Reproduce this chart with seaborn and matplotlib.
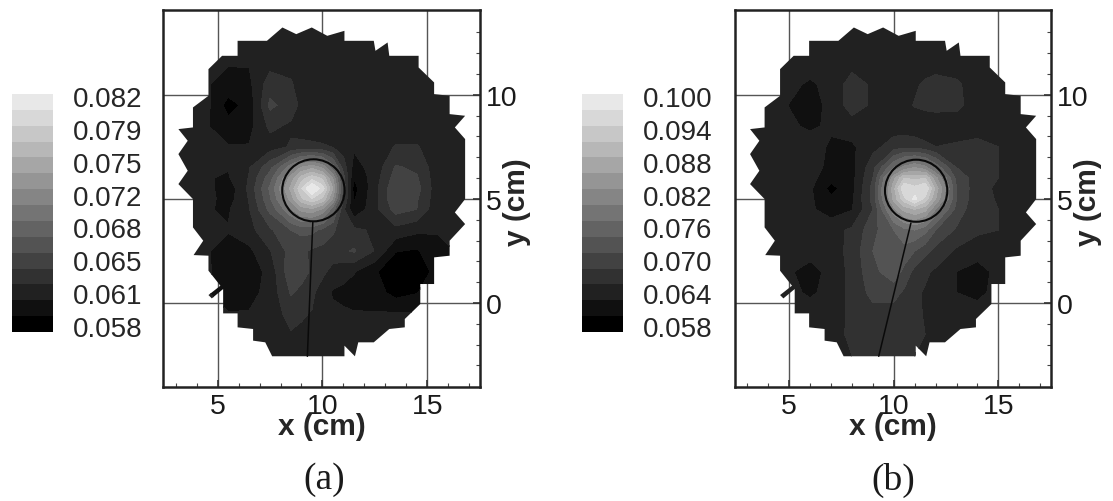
import numpy as np
import matplotlib
matplotlib.use("Agg")
import matplotlib.pyplot as plt
from matplotlib.colors import ListedColormap
from matplotlib.patches import Polygon, Circle
import seaborn as sns

# colour bar labels, every second band
labels_a = ["0.058", "0.061", "0.065", "0.068", "0.072", "0.075", "0.079", "0.082"]
labels_b = ["0.058", "0.064", "0.070", "0.076", "0.082", "0.088", "0.094", "0.100"]

# band edges (in units of 1e-3)
start_level = 58.0
step_a = 1.7
step_b = 3.0
n_bands = 15

# measured region outline, cm
outline_x = [8.09, 8.75, 9.49, 10.23, 11.05, 11.05, 12.45, 12.53, 13.11, 13.19, 14.59, 14.59,
             15.33, 15.33, 16.07, 16.07, 16.81, 16.32, 16.81, 16.81, 16.32, 16.81, 16.07, 16.07,
             15.33, 15.33, 14.67, 14.67, 13.93, 13.93, 13.19, 12.45, 11.71, 11.55, 11.05, 11.05,
             7.6, 7.27, 6.69, 6.69, 5.95, 5.95, 5.26, 5.26, 4.72, 4.56, 5.13, 4.56, 4.56, 3.85,
             4.31, 3.82, 3.82, 3.125, 3.57, 3.125, 3.57, 3.125, 3.82, 3.82, 4.56, 4.56, 5.21,
             5.95, 5.95, 7.35]
outline_y = [13.23, 12.91, 13.23, 12.83, 13.07, 12.59, 12.59, 12.11, 12.51, 11.87, 11.87, 11.31,
             10.59, 10.03, 9.95, 9.07, 8.99, 8.43, 7.87, 4.99, 4.35, 3.79, 2.99, 2.27,
             2.19, 0.91, 0.91, -0.05, -0.77, -1.17, -1.25, -1.89, -1.89, -2.56, -2.05, -2.56,
             -2.56, -1.89, -1.81, -1.25, -1.17, -0.5, -0.5, 0.67, 0.22, 0.38, 0.83, 1.55, 2.27, 2.3,
             2.99, 3.63, 4.99, 5.71, 6.35, 7.15, 7.79, 8.35, 8.43, 9.39, 9.95, 11.23, 11.87,
             11.87, 12.59, 12.59]

# panel (a) probe and stem
circle_a = (9.57, 5.41)
stem_x_a = [9.54, 9.28]
stem_y_a = [3.87, -2.56]
# panel (b) probe and stem
circle_b = (11.07, 5.39)
stem_x_b = [10.82, 9.28]
stem_y_b = [3.84, -2.56]
radius = 1.49

# field grids, values (1e-3)
y_nodes = [13.5, 12.5, 11.5, 10.5, 9.5, 8.5, 7.5, 6.5, 6, 5.5, 5, 4.5, 3.5, 2.5, 1.5, 0.5, -0.5, -1.5, -2.5, -3.5]
x_nodes_a = [2.5, 3.5, 4.5, 5.5, 6.5, 7.5, 8.5, 9, 9.5, 10, 10.5, 11, 11.5, 12.5, 13.5, 14.5, 15.5, 16.5, 17.5]
x_nodes_b = [3, 4, 5, 6, 7, 8, 9, 10, 10.5, 11, 11.5, 12, 13, 14, 15, 16, 17]

field_a = [
    [61.5, 61.5, 61.5, 61.5, 61.5, 61.5, 61.5, 61.5, 61.5, 61.5, 61.5, 61.5, 61.5, 61.5, 61.5, 61.5, 61.5, 61.5, 61.5],
    [61.5, 61.5, 61.5, 61.5, 61.5, 61.5, 61.5, 61.5, 61.5, 61.5, 61.5, 61.5, 61.5, 61.5, 61.5, 61.5, 61.5, 61.5, 61.5],
    [61.5, 61.5, 61.5, 61.5, 61.5, 62.5, 62.5, 62.0, 61.5, 61.5, 61.5, 61.5, 61.5, 61.5, 61.5, 61.5, 61.5, 61.5, 61.5],
    [61.5, 61.5, 61.5, 60.8, 61.0, 64.0, 63.3, 62.2, 61.6, 61.5, 61.5, 61.5, 61.5, 61.5, 61.5, 61.5, 61.5, 61.5, 61.5],
    [61.5, 61.5, 61.8, 59.0, 60.3, 65.2, 64.0, 62.6, 61.6, 61.5, 61.5, 61.5, 61.5, 61.5, 61.5, 61.5, 61.5, 61.5, 61.5],
    [61.5, 61.5, 61.5, 60.3, 60.8, 63.5, 62.8, 62.2, 61.7, 61.6, 61.5, 61.5, 61.5, 61.5, 61.5, 61.5, 61.5, 61.5, 61.5],
    [61.5, 61.5, 61.5, 61.5, 61.5, 62.3, 63.3, 63.6, 63.6, 63.4, 63.0, 62.3, 61.6, 61.5, 63.3, 63.3, 61.7, 61.5, 61.5],
    [61.5, 61.5, 61.5, 61.5, 63.0, 66.0, 71.0, 73.5, 74.5, 73.0, 69.0, 64.0, 60.8, 62.0, 65.0, 64.5, 62.0, 61.5, 61.5],
    [61.5, 61.5, 61.5, 61.2, 63.2, 67.5, 74.0, 77.5, 79.5, 78.0, 73.0, 65.5, 59.8, 62.2, 65.6, 65.0, 62.0, 61.5, 61.5],
    [61.5, 61.5, 62.0, 60.3, 63.5, 68.5, 75.5, 80.0, 83.9, 81.0, 75.0, 66.0, 59.0, 62.5, 66.2, 65.5, 62.0, 61.5, 61.5],
    [61.5, 61.5, 62.0, 60.6, 63.2, 68.0, 74.0, 78.0, 80.0, 78.0, 73.0, 65.0, 59.5, 62.5, 66.3, 65.0, 62.0, 61.5, 61.5],
    [61.5, 61.5, 61.5, 61.2, 63.0, 67.0, 71.5, 74.0, 74.5, 73.0, 69.0, 63.5, 60.0, 62.5, 65.5, 64.8, 61.8, 61.5, 61.5],
    [61.5, 61.5, 61.5, 61.5, 62.5, 64.5, 66.5, 67.0, 67.0, 66.0, 65.0, 64.0, 63.5, 62.8, 62.5, 61.8, 61.5, 61.5, 61.5],
    [61.5, 61.5, 61.5, 60.8, 61.0, 63.0, 65.5, 65.2, 64.5, 64.3, 64.0, 64.5, 65.0, 63.0, 59.8, 59.5, 61.0, 61.5, 61.5],
    [61.5, 61.5, 61.8, 59.8, 60.3, 62.0, 66.0, 65.5, 64.5, 63.5, 62.5, 62.0, 61.5, 60.0, 58.0, 58.3, 60.5, 61.5, 61.5],
    [61.5, 61.5, 61.5, 60.3, 60.8, 62.0, 65.0, 64.3, 63.5, 62.2, 61.2, 61.0, 60.7, 60.5, 59.0, 59.6, 61.0, 61.5, 61.5],
    [61.5, 61.5, 61.5, 61.5, 61.5, 62.5, 63.5, 63.3, 63.0, 62.4, 61.8, 61.6, 61.5, 61.5, 61.5, 61.5, 61.5, 61.5, 61.5],
    [61.5, 61.5, 61.5, 61.5, 61.5, 62.5, 63.0, 62.8, 62.5, 62.2, 62.0, 61.8, 61.7, 61.5, 61.5, 61.5, 61.5, 61.5, 61.5],
    [61.5, 61.5, 61.5, 61.5, 61.5, 62.0, 62.5, 62.5, 62.5, 62.2, 62.0, 61.8, 61.7, 61.5, 61.5, 61.5, 61.5, 61.5, 61.5],
    [61.5, 61.5, 61.5, 61.5, 61.5, 62.0, 62.5, 62.5, 62.5, 62.2, 62.0, 61.8, 61.7, 61.5, 61.5, 61.5, 61.5, 61.5, 61.5],
]

field_b = [
    [65.5, 65.5, 65.5, 65.5, 65.5, 65.5, 65.5, 65.5, 65.5, 65.5, 65.5, 65.5, 65.5, 65.5, 65.5, 65.5, 65.5],
    [65.5, 65.5, 65.5, 65.5, 65.5, 65.5, 65.5, 65.5, 65.5, 65.5, 65.5, 65.5, 65.5, 65.5, 65.5, 65.5, 65.5],
    [65.5, 65.5, 65.5, 65.5, 65.5, 66.0, 65.5, 65.5, 65.5, 65.5, 65.5, 65.5, 65.5, 65.5, 65.5, 65.5, 65.5],
    [65.5, 65.5, 64.8, 63.5, 65.0, 68.3, 66.5, 65.5, 65.8, 66.5, 67.5, 68.3, 67.5, 65.5, 65.5, 65.5, 65.5],
    [65.5, 65.5, 63.9, 62.8, 64.8, 68.5, 66.5, 65.5, 66.2, 67.2, 68.0, 68.5, 67.8, 65.5, 65.5, 65.5, 65.5],
    [65.5, 65.5, 64.5, 63.5, 64.5, 65.5, 65.5, 65.5, 65.2, 64.8, 64.2, 64.0, 65.2, 65.5, 65.5, 65.5, 65.5],
    [65.5, 65.5, 65.5, 65.5, 63.5, 63.5, 66.0, 68.5, 69.2, 69.0, 68.0, 67.0, 67.5, 68.0, 67.0, 65.5, 65.5],
    [65.5, 65.5, 65.5, 65.5, 63.0, 63.0, 69.0, 79.0, 83.0, 85.0, 83.0, 78.0, 70.0, 68.5, 67.0, 65.5, 65.5],
    [65.5, 65.5, 65.5, 65.0, 62.0, 63.0, 70.0, 87.0, 94.0, 93.0, 94.0, 86.0, 72.0, 68.5, 67.0, 65.5, 65.5],
    [65.5, 65.5, 65.5, 64.5, 60.0, 63.0, 71.0, 90.0, 100.0, 98.0, 100.0, 90.0, 73.0, 68.0, 66.5, 65.5, 65.5],
    [65.5, 65.5, 65.5, 64.5, 61.5, 63.5, 71.0, 89.0, 96.0, 101.0, 96.0, 88.0, 73.0, 67.8, 66.8, 65.5, 65.5],
    [65.5, 65.5, 65.5, 64.5, 62.5, 63.8, 70.0, 84.0, 89.0, 91.0, 89.0, 82.0, 72.0, 67.5, 67.0, 65.5, 65.5],
    [65.5, 65.5, 65.5, 65.5, 66.0, 67.5, 72.0, 76.0, 78.0, 79.0, 77.0, 73.0, 69.5, 67.5, 67.0, 65.5, 65.5],
    [65.5, 65.5, 65.5, 65.0, 65.5, 68.0, 73.0, 76.0, 75.0, 73.0, 71.0, 69.0, 66.5, 65.5, 65.5, 65.5, 65.5],
    [65.5, 65.5, 64.3, 63.0, 64.8, 68.0, 72.0, 75.0, 72.0, 69.0, 67.5, 66.5, 64.0, 62.5, 65.0, 65.5, 65.5],
    [65.5, 65.5, 64.8, 63.5, 65.0, 67.8, 71.0, 71.0, 69.5, 67.5, 66.7, 66.0, 64.0, 63.0, 65.2, 65.5, 65.5],
    [65.5, 65.5, 65.5, 65.5, 65.8, 67.5, 69.0, 68.8, 68.0, 67.5, 66.8, 66.0, 65.5, 65.5, 65.5, 65.5, 65.5],
    [65.5, 65.5, 65.5, 65.5, 65.5, 67.8, 68.0, 68.0, 67.8, 67.6, 67.0, 66.5, 65.5, 65.5, 65.5, 65.5, 65.5],
    [65.5, 65.5, 65.5, 65.5, 65.5, 67.0, 67.5, 67.5, 67.3, 67.0, 66.5, 66.0, 65.5, 65.5, 65.5, 65.5, 65.5],
    [65.5, 65.5, 65.5, 65.5, 65.5, 67.0, 67.5, 67.5, 67.3, 67.0, 66.5, 66.0, 65.5, 65.5, 65.5, 65.5, 65.5],
]

sns.set_style("ticks")
plt.rcParams['font.family'] = ['Liberation Sans', 'DejaVu Sans']
plt.rcParams['text.color'] = '#1a1a1a'

W, H = 1113, 502
fig = plt.figure(figsize=(W / 100, H / 100), dpi=100)
greys = sns.blend_palette(["#000000", "#e8e8e8"], n_bands)
cmap = ListedColormap(greys)


def pixel_axes(left, right, top, bottom):
    return fig.add_axes([left / W, 1 - bottom / H, (right - left) / W, (bottom - top) / H])


def draw_panel(box, cbar_box, x_nodes, field, step, labels, circle, stem_x, stem_y, letter, letter_x):
    ax = pixel_axes(*box)
    levels = start_level + step * np.arange(n_bands + 1)
    z = np.array(field)
    cs = ax.contourf(x_nodes, y_nodes, z, levels=levels, colors=greys, extend="neither", zorder=1)
    clip = Polygon(np.column_stack([outline_x, outline_y]), closed=True, transform=ax.transData)
    cs.set_clip_path(clip)

    ax.add_patch(Circle(circle, radius, fill=False, ec="#0a0a0a", lw=1.5, zorder=3))
    ax.plot(stem_x, stem_y, color="#0a0a0a", lw=1.1, zorder=3)

    ax.set_xlim(2.39, 17.52)
    ax.set_ylim(-4.05, 14.07)
    ax.set_xticks([5, 10, 15])
    ax.set_yticks([0, 5, 10])
    ax.set_xticks(np.arange(3, 18), minor=True)
    ax.set_yticks(np.arange(-3, 14), minor=True)
    ax.grid(True, which="major", color="#555555", lw=1.0, zorder=0)
    ax.set_axisbelow(True)
    ax.yaxis.tick_right()
    ax.yaxis.set_label_position("right")
    ax.tick_params(which="major", direction="in", length=5, width=1.2, labelsize=20.5, pad=4,
                   color="#333333", labelcolor="#1a1a1a")
    ax.tick_params(which="minor", direction="in", length=3, width=0.8, color="#444444")
    for sp in ax.spines.values():
        sp.set_linewidth(1.8)
        sp.set_color("#222222")

    ax.set_xlabel("x (cm)", fontsize=21.5, fontweight="bold", va="center")
    ax.set_ylabel("y (cm)", fontsize=21.5, fontweight="bold", va="center")
    ax.xaxis.set_label_coords(0.5, -0.103)
    ax.yaxis.set_label_coords(1.117, 0.493)

    # colour bar as a one column heatmap
    cax = pixel_axes(*cbar_box)
    bands = (levels[:-1] + step / 2)[::-1].reshape(-1, 1)
    sns.heatmap(bands, ax=cax, cmap=cmap, vmin=levels[0], vmax=levels[-1], cbar=False,
                xticklabels=False, yticklabels=False)
    cax.yaxis.tick_right()
    cax.set_yticks(n_bands - (0.38 + 2.07 * np.arange(len(labels))))
    cax.set_yticklabels(labels, rotation=0, fontsize=20)
    cax.tick_params(axis="y", length=0, pad=14)

    fig.text(letter_x / W, 1 - 480 / H, letter, family="Liberation Serif", fontsize=27, ha="center", va="center")


draw_panel((163, 480, 11, 388.3), (11.5, 53, 95, 333), x_nodes_a, field_a, step_a,
           labels_a, circle_a, stem_x_a, stem_y_a, "(a)", 324)
draw_panel((734.7, 1051, 11, 388.3), (582, 623, 95, 333), x_nodes_b, field_b, step_b,
           labels_b, circle_b, stem_x_b, stem_y_b, "(b)", 893)

fig.savefig("out.png", dpi=100)
